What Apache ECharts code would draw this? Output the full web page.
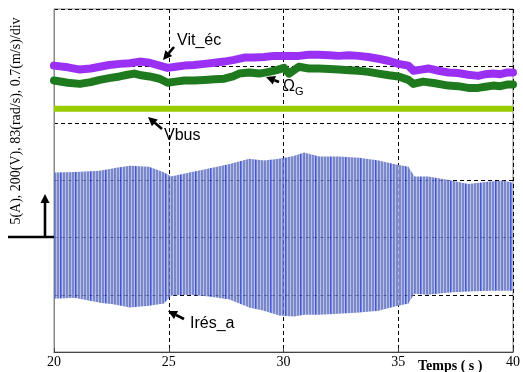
<!DOCTYPE html>
<html><head><meta charset="utf-8">
<script src="https://cdn.jsdelivr.net/npm/echarts@6/dist/echarts.min.js"></script>
<style>html,body{margin:0;padding:0;background:#fff}#c{width:523px;height:372px}</style>
</head><body><div id="c"></div>
<script>
// x axis ticks (s)
const xTicks = [20, 25, 30, 35, 40];
// Vit_éc (purple), values in divisions
const vitT = [20.0,20.6,21.13,21.6,22.0,22.4,22.86,23.3,23.73,24.16,24.6,24.95,25.3,25.68,26.1,26.55,27.0,27.42,27.85,28.29,28.7,29.15,29.6,30.02,30.67,31.1,31.54,32.0,32.41,32.85,33.27,33.7,34.14,34.6,35.01,35.44,35.66,36.0,36.31,36.75,37.18,37.6,38.05,38.48,38.8,39.13,39.45,39.78,40.0];
const vitV = [3.01,2.98,2.94,2.96,2.99,3.02,3.04,3.05,3.08,3.06,3.01,2.97,2.99,3.01,3.02,3.04,3.06,3.08,3.11,3.15,3.15,3.16,3.18,3.18,3.18,3.2,3.2,3.19,3.18,3.19,3.18,3.16,3.13,3.09,3.04,3.01,2.92,2.94,2.96,2.92,2.89,2.88,2.85,2.83,2.86,2.87,2.86,2.89,2.89];
// Omega_G (dark green)
const omT = [20.0,20.6,21.13,21.6,22.0,22.4,22.86,23.2,23.51,23.8,24.16,24.6,24.95,25.3,25.68,26.1,26.55,27.0,27.42,27.8,28.07,28.5,28.94,29.37,29.7,30.02,30.24,30.67,31.1,31.54,32.0,32.41,32.85,33.27,33.7,34.14,34.6,35.01,35.44,35.66,36.09,36.6,37.18,37.6,38.05,38.48,38.8,39.13,39.45,39.78,40.0];
const omV = [2.75,2.71,2.69,2.72,2.76,2.79,2.82,2.85,2.87,2.84,2.82,2.78,2.71,2.73,2.75,2.75,2.76,2.77,2.78,2.82,2.87,2.89,2.87,2.9,2.93,2.97,2.87,2.99,2.96,2.96,2.95,2.94,2.93,2.92,2.9,2.87,2.84,2.82,2.76,2.69,2.73,2.7,2.66,2.65,2.62,2.62,2.64,2.66,2.65,2.68,2.68];
// Vbus (constant)
const vbusT = [20, 40];
const vbusV = [2.255, 2.255];
// Irés_a envelope (upper / lower), divisions
const iT = [20,20.9,22.0,22.65,23.3,24.15,24.8,25.1,25.9,26.75,27.65,28.5,29.15,29.8,30.45,30.9,31.55,32.4,33.3,34.15,34.8,35.45,35.7,36.3,37.2,38.05,38.9,39.55,40];
const iUp = [1.14,1.15,1.17,1.22,1.26,1.24,1.14,1.07,1.14,1.21,1.29,1.38,1.35,1.38,1.43,1.49,1.42,1.42,1.40,1.35,1.29,1.24,1.07,1.07,1.01,0.94,0.98,1.00,0.96];
const iLo = [-1.07,-1.05,-1.14,-1.17,-1.22,-1.19,-1.15,-1.01,-1.00,-1.03,-1.08,-1.22,-1.28,-1.36,-1.38,-1.35,-1.35,-1.33,-1.31,-1.28,-1.21,-1.15,-0.98,-1.00,-0.96,-0.94,-0.93,-0.93,-0.93];

const pair = (t, v) => t.map((x, i) => [x, v[i]]);

// striped pattern for the current band
const pc = document.createElement('canvas');
pc.width = 15; pc.height = 4;
const g = pc.getContext('2d');
for (let i = 0; i < 15; i++) {
  g.fillStyle = (i % 3 === 2) ? '#aab3e2' : '#5f70c0';
  if (i === 0) g.fillStyle = '#1530f0';
  g.fillRect(i, 0, 1, 4);
}

// band segments built from the envelope arrays
const bandData = [];
for (let k = 0; k < iT.length - 1; k++) {
  bandData.push([iT[k], iUp[k], iLo[k], iT[k+1], iUp[k+1], iLo[k+1]]);
}

function arrow(x1, y1, x2, y2) {
  const a = Math.atan2(y2 - y1, x2 - x1), L = 9, W = 4.5;
  const bx = x2 - L * Math.cos(a), by = y2 - L * Math.sin(a);
  const px = -Math.sin(a) * W, py = Math.cos(a) * W;
  return [
    {type:'line', shape:{x1:x1,y1:y1,x2:bx,y2:by}, style:{stroke:'#000', lineWidth:2.6}, z:100},
    {type:'polygon', shape:{points:[[x2,y2],[bx+px,by+py],[bx-px,by-py]]}, style:{fill:'#000'}, z:100}
  ];
}
const sans = '"Liberation Sans", Arial, sans-serif';
const serif = '"Liberation Serif", "Times New Roman", serif';
const txt = (x, y, s, size, extra) => Object.assign({type:'text', left:x, top:y, z:100,
  style:{text:s, fontFamily:sans, fontSize:size, fill:'#000'}}, extra || {});

const graphics = [].concat(
  arrow(174, 47, 163, 60),
  arrow(279, 82, 266, 77),
  arrow(162, 129, 148, 117),
  arrow(184, 319, 168, 311),
  arrow(45, 237, 45, 194),
  [{type:'line', shape:{x1:8,y1:237,x2:54,y2:237}, style:{stroke:'#000', lineWidth:2.6}, z:100}],
  [
    txt(177, 33, 'Vit_éc', 16),
    txt(164, 128, 'Vbus', 16),
    txt(190, 316, 'Irés_a', 16),
    {type:'text', left:283, top:79, z:100, style:{rich:{o:{fontFamily:sans,fontSize:16,fill:'#000'}, s:{fontFamily:sans,fontSize:11,fill:'#000',padding:[9,0,0,0]}}, text:'{o|Ω}{s|G}'}},
    {type:'text', x:16, y:121, rotation:Math.PI/2, z:100,
      style:{text:'5(A), 200(V), 83(rad/s), 0.7(m/s)/div', fontFamily:serif, fontSize:14, fill:'#000', align:'center', verticalAlign:'middle'}},
    {type:'text', left:418, top:359, z:100, style:{text:'Temps ( s )', fontFamily:serif, fontSize:14, fontWeight:'bold', fill:'#000'}}
  ]
);

const chart = echarts.init(document.getElementById('c'), null, {renderer:'canvas'});
chart.setOption({
  animation:false,
  grid:{left:54, right:8, top:9, bottom:20, show:true, borderColor:'#888', borderWidth:1},
  xAxis:{type:'value', min:xTicks[0], max:xTicks[xTicks.length-1], interval:5,
    axisLine:{show:true, onZero:false, lineStyle:{color:'#444'}},
    axisTick:{show:true, inside:true, length:4, lineStyle:{color:'#444'}},
    axisLabel:{color:'#000', fontFamily:serif, fontSize:14, margin:3},
    splitLine:{show:true, lineStyle:{color:'#000', type:[4,3], width:1}}},
  yAxis:{type:'value', min:-2, max:4, interval:1,
    axisLine:{show:true, onZero:false, lineStyle:{color:'#888'}}, axisTick:{show:false}, axisLabel:{show:false},
    splitLine:{show:true, lineStyle:{color:'#000', type:[4,3], width:1}}},
  series:[
    {type:'custom', data:bandData, z:2, clip:true,
      renderItem:function(params, api){
        const a = api.coord([api.value(0), api.value(1)]);
        const b = api.coord([api.value(3), api.value(4)]);
        const c = api.coord([api.value(3), api.value(5)]);
        const d = api.coord([api.value(0), api.value(2)]);
        return {type:'polygon', shape:{points:[[a[0]-0.3,a[1]],[b[0]+0.3,b[1]],[c[0]+0.3,c[1]],[d[0]-0.3,d[1]]]},
          style:{fill:{image:pc, repeat:'repeat'}, stroke:null, opacity:0.82}};
      }},
    {type:'line', data:pair(vbusT, vbusV), symbol:'none', lineStyle:{color:'#99cc00', width:6}, z:3},
    {type:'line', data:pair(omT, omV), symbol:'none', lineStyle:{color:'#1f7a1f', width:8, join:'round', cap:'round'}, z:3},
    {type:'line', data:pair(vitT, vitV), symbol:'none', lineStyle:{color:'#9b30f5', width:8, join:'round', cap:'round'}, z:3}
  ],
  graphic:graphics
});
</script></body></html>
